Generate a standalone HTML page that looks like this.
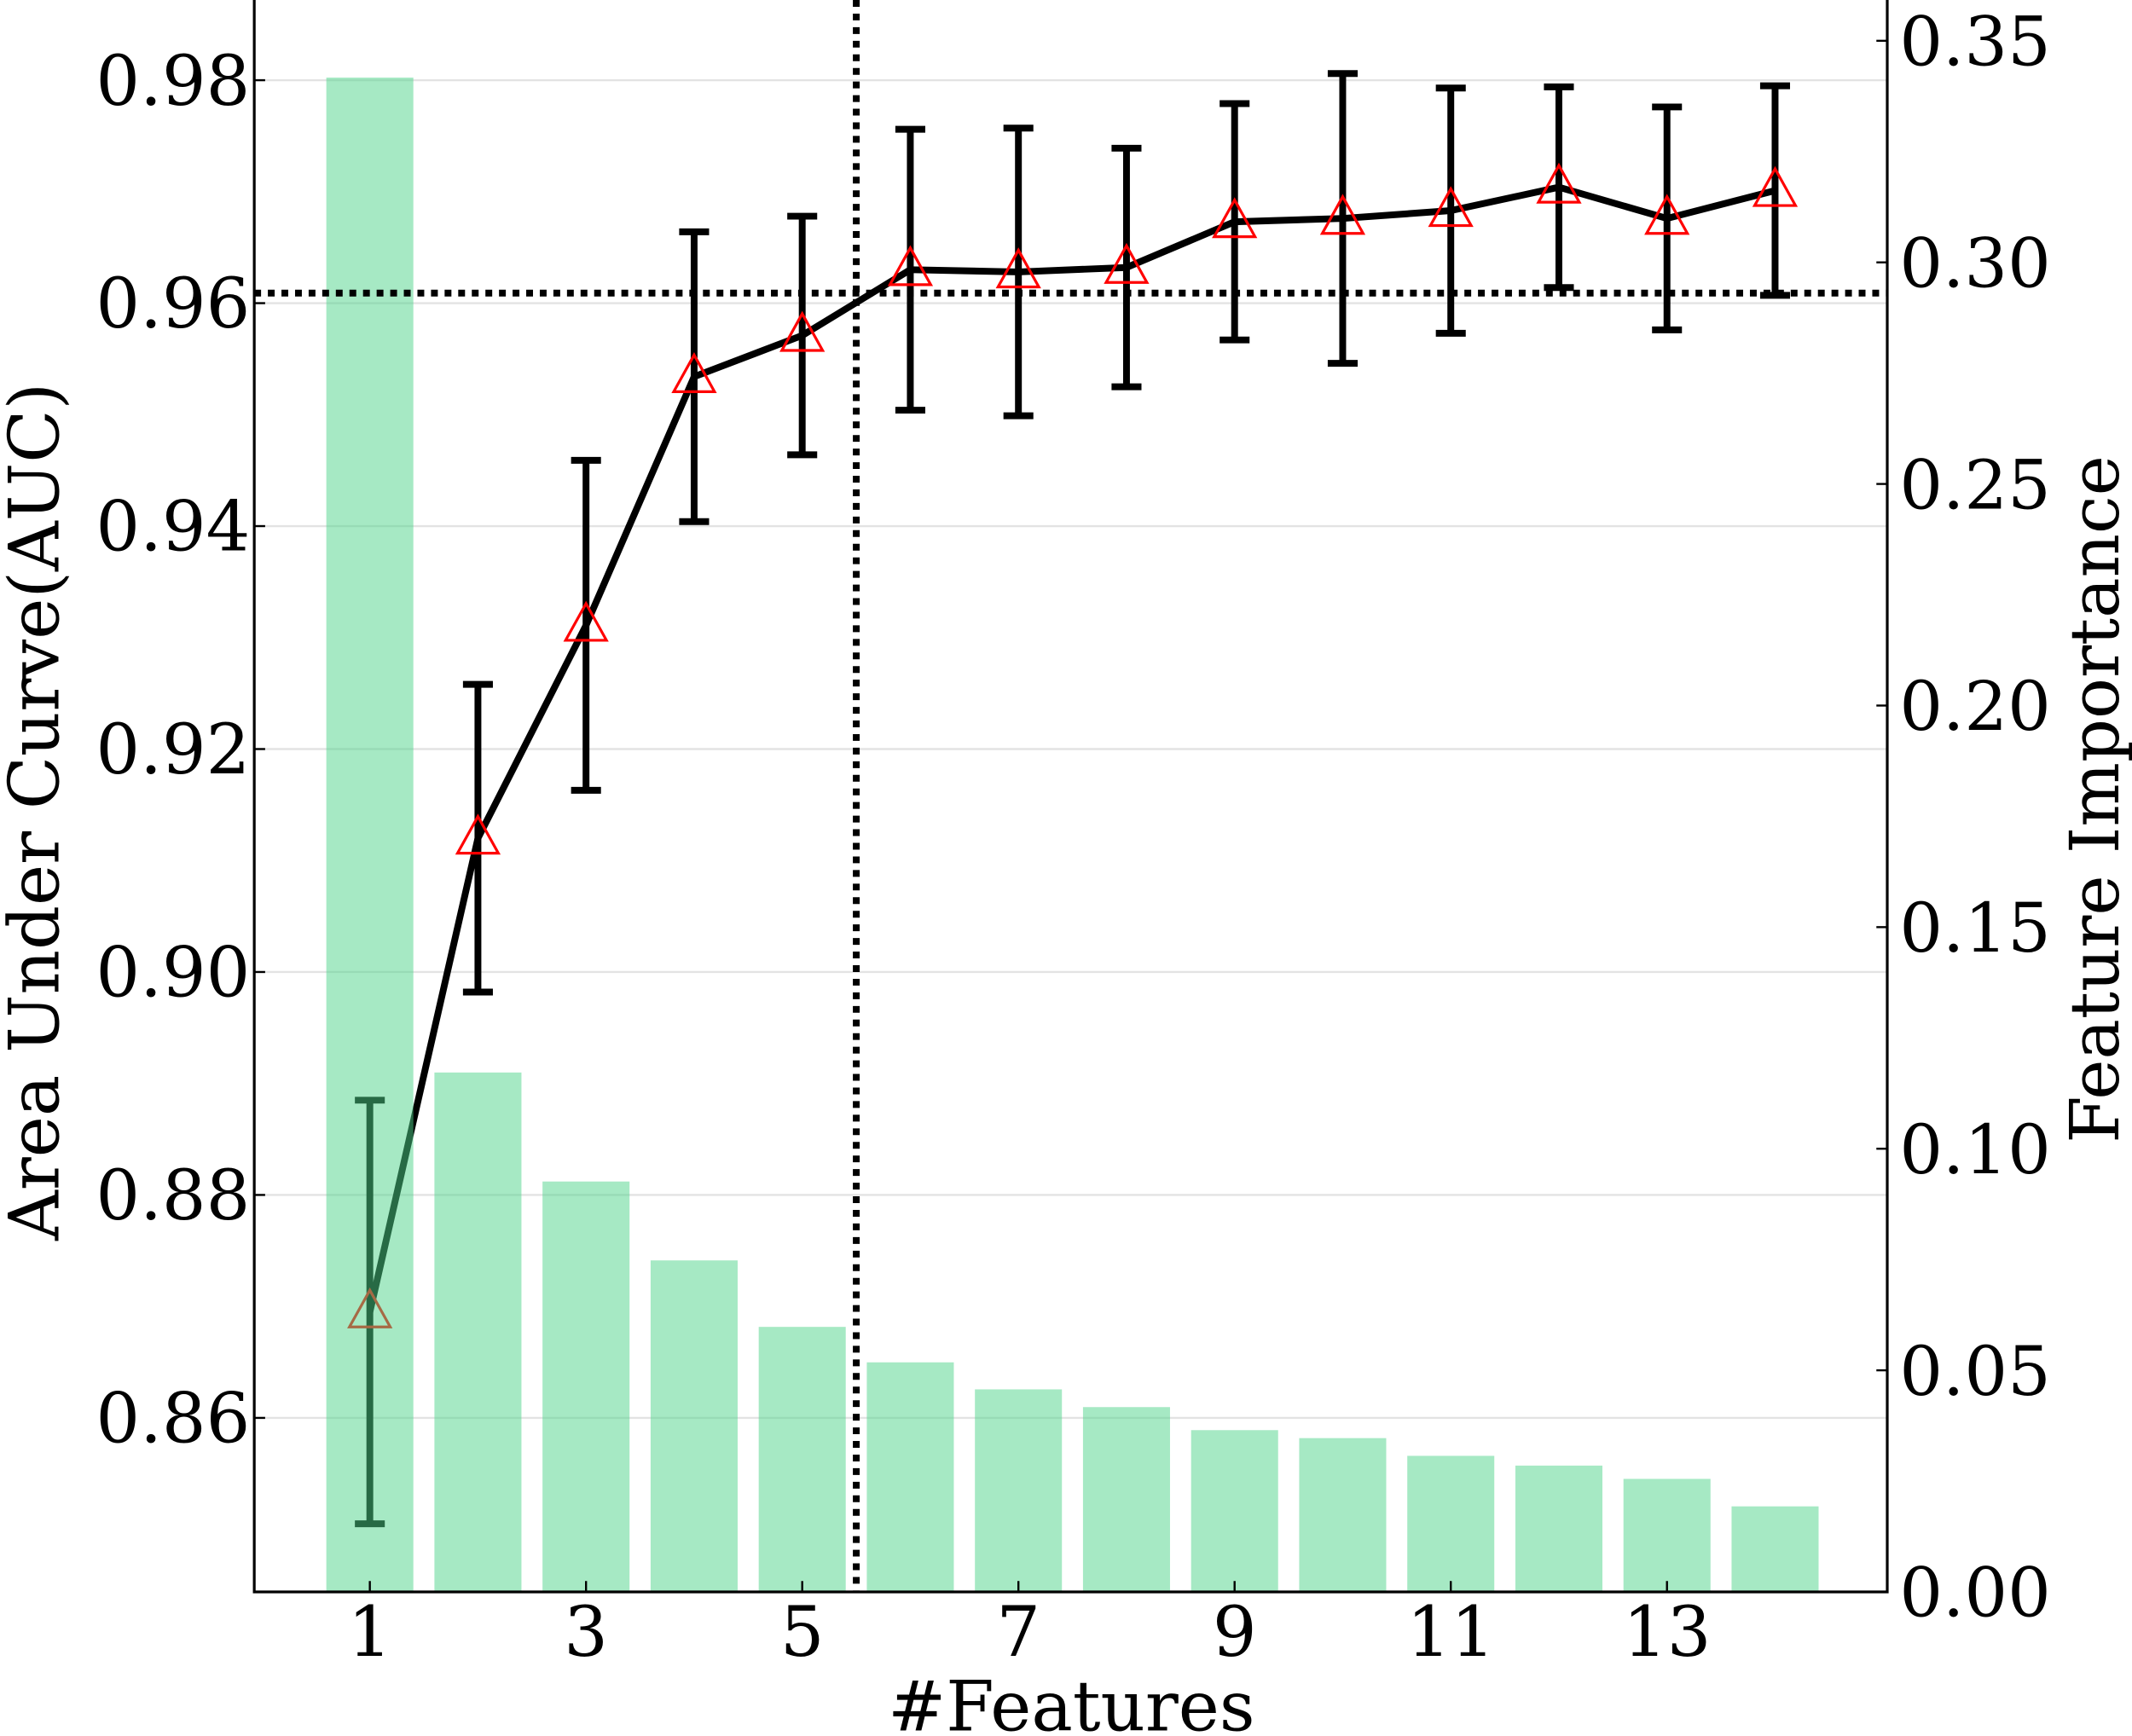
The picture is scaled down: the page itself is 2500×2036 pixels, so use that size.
<!DOCTYPE html>
<html><head><meta charset="utf-8">
<style>
html,body{margin:0;padding:0;background:#fff;}
svg{display:block;}
text{font-family:"DejaVu Serif","Liberation Serif",serif;fill:#000;}
</style></head>
<body>
<svg id="chart" width="2500" height="2036" viewBox="0 0 1568 1277" preserveAspectRatio="none" xmlns="http://www.w3.org/2000/svg">
<g id="grid"></g>
<g id="line"></g>
<g id="bars"></g>
<g id="axes"></g>
</svg>
<script>
const features = [1,2,3,4,5,6,7,8,9,10,11,12,13,14];
const aucMean = [0.8695,0.9120,0.9311,0.9534,0.9571,0.9630,0.9628,0.9632,0.9673,0.9676,0.9683,0.9704,0.9676,0.9701];
const aucErr = [0.019,0.0138,0.0148,0.013,0.0107,0.0126,0.0129,0.0107,0.0106,0.013,0.011,0.009,0.010,0.0094];
const importance = [0.3417,0.1172,0.0926,0.0748,0.0598,0.0518,0.0457,0.0417,0.0365,0.0347,0.0307,0.0285,0.0255,0.0193];
const leftTicks = [0.86,0.88,0.90,0.92,0.94,0.96,0.98];
const rightTicks = [0.00,0.05,0.10,0.15,0.20,0.25,0.30,0.35];
const xTicks = [1,3,5,7,9,11,13];
const hLineValue = 0.9609;
const vLineValue = 5.5;

const NS='http://www.w3.org/2000/svg';
const L=187,R=1388,T=0,B=1171;
const xS=v=>272+(v-1)*79.5;
const yL=v=>59+(0.98-v)/0.02*164;
const yR=v=>1171-v/0.05*163;
function mk(tag,attrs,parent){const e=document.createElementNS(NS,tag);for(const k in attrs)e.setAttribute(k,attrs[k]);parent.appendChild(e);return e;}
const grid=document.getElementById('grid'),line=document.getElementById('line'),bars=document.getElementById('bars'),axes=document.getElementById('axes');

leftTicks.forEach(t=>{
  const g=mk('line',{x1:L,x2:R,y1:yL(t),y2:yL(t),stroke:'#e3e3e3','stroke-width':1.5},grid);
  
  
});

let pts=features.map((f,i)=>xS(f)+','+yL(aucMean[i])).join(' ');
const pl=mk('polyline',{points:pts,fill:'none',stroke:'#000','stroke-width':5,'stroke-linejoin':'round'},line);


features.forEach((f,i)=>{
  const x=xS(f),y1=yL(aucMean[i]+aucErr[i]),y2=yL(aucMean[i]-aucErr[i]);
  const e=mk('path',{d:`M${x},${y1}V${y2}M${x-11},${y1}H${x+11}M${x-11},${y2}H${x+11}`,stroke:'#000','stroke-width':5,fill:'none'},line);
  
  
  const y=yL(aucMean[i]);
  const m=mk('polygon',{points:`${x},${y-16} ${x-15},${y+11} ${x+15},${y+11}`,fill:'none',stroke:'#ff0000','stroke-width':2},line);
  
  
});

features.forEach((f,i)=>{
  const b=mk('rect',{x:xS(f)-32,y:yR(importance[i]),width:64,height:B-yR(importance[i]),fill:'rgb(78,211,138)','fill-opacity':0.5},bars);
  
  
});

const hl=mk('line',{x1:L,x2:R,y1:yL(hLineValue),y2:yL(hLineValue),stroke:'#000','stroke-width':5,'stroke-dasharray':'5 5'},axes);


const vl=mk('line',{x1:xS(vLineValue),x2:xS(vLineValue),y1:T,y2:B,stroke:'#000','stroke-width':5,'stroke-dasharray':'5 5'},axes);



const fr=mk('path',{d:`M${L},${T}V${B}H${R}V${T}`,fill:'none',stroke:'#000','stroke-width':2},axes);



leftTicks.forEach(t=>{
  const y=yL(t);
  mk('line',{x1:L,x2:L+8,y1:y,y2:y,stroke:'#000','stroke-width':1.5},axes);
  const tx=mk('text',{x:184,y:y+18,'text-anchor':'end','font-size':51},axes);
  tx.textContent=t.toFixed(2);
  
  
});
rightTicks.forEach(t=>{
  const y=yR(t);
  mk('line',{x1:R,x2:R-8,y1:y,y2:y,stroke:'#000','stroke-width':1.5},axes);
  const tx=mk('text',{x:1397,y:y+18,'text-anchor':'start','font-size':50},axes);
  tx.textContent=t.toFixed(2);
  
  
});
xTicks.forEach(t=>{
  const x=xS(t);
  mk('line',{x1:x,x2:x,y1:B,y2:B-8,stroke:'#000','stroke-width':1.5},axes);
  const tx=mk('text',{x:x,y:1218,'text-anchor':'middle','font-size':51},axes);
  tx.textContent=t;
  
  
});
const xt=mk('text',{x:788,y:1273,'text-anchor':'middle','font-size':51},axes);
xt.textContent='#Features';


const yt=mk('text',{x:0,y:0,'text-anchor':'middle','font-size':51,transform:'translate(43,597) rotate(-90)'},axes);
yt.textContent='Area Under Curve(AUC)';


const yt2=mk('text',{x:0,y:0,'text-anchor':'middle','font-size':50,transform:'translate(1558,588) rotate(-90)'},axes);
yt2.textContent='Feature Importance';


</script>
</body></html>
